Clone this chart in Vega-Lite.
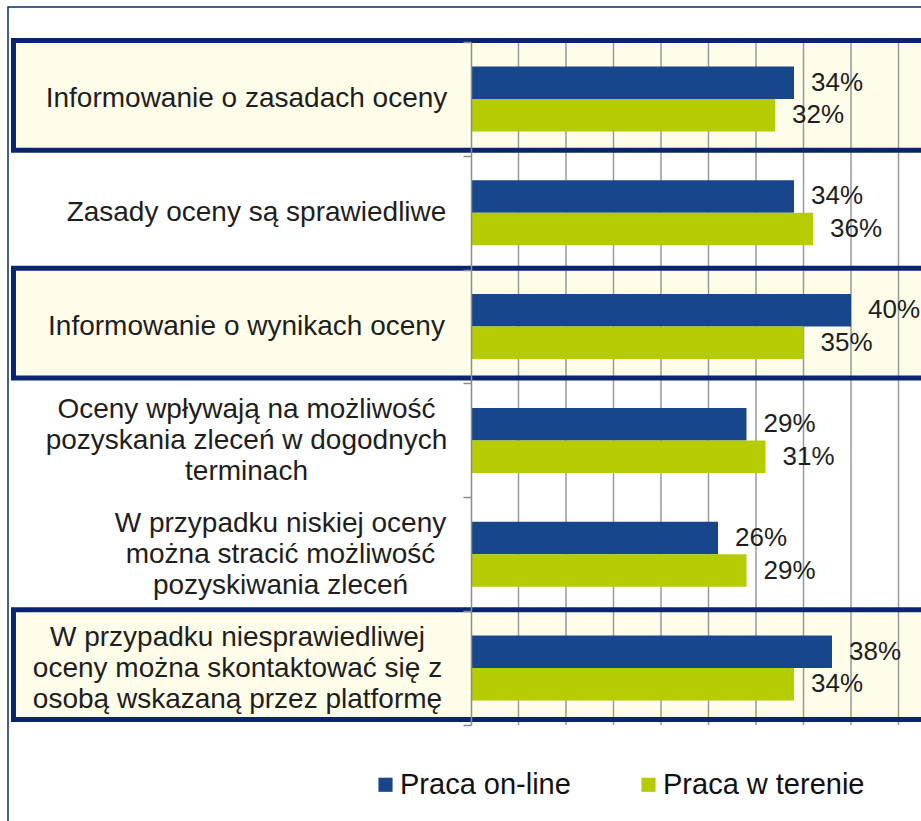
{
  "$schema": "https://vega.github.io/schema/vega-lite/v6.json",
  "autosize": {"type": "none"},
  "padding": {"left": 8, "top": 7, "right": -2, "bottom": -2},
  "width": 915,
  "height": 816,
  "background": "white",
  "view": {"stroke": "#0A2B6E", "strokeWidth": 1.5},
  "config": {"font": "Liberation Sans"},
  "datasets": {
    "results": [
      {"kategoria": "Informowanie o zasadach oceny", "seria": "Praca on-line", "wartosc": 0.34},
      {"kategoria": "Informowanie o zasadach oceny", "seria": "Praca w terenie", "wartosc": 0.32},
      {"kategoria": "Zasady oceny są sprawiedliwe", "seria": "Praca on-line", "wartosc": 0.34},
      {"kategoria": "Zasady oceny są sprawiedliwe", "seria": "Praca w terenie", "wartosc": 0.36},
      {"kategoria": "Informowanie o wynikach oceny", "seria": "Praca on-line", "wartosc": 0.40},
      {"kategoria": "Informowanie o wynikach oceny", "seria": "Praca w terenie", "wartosc": 0.35},
      {"kategoria": "Oceny wpływają na możliwość\npozyskania zleceń w dogodnych\nterminach", "seria": "Praca on-line", "wartosc": 0.29},
      {"kategoria": "Oceny wpływają na możliwość\npozyskania zleceń w dogodnych\nterminach", "seria": "Praca w terenie", "wartosc": 0.31},
      {"kategoria": "W przypadku niskiej oceny\nmożna stracić możliwość\npozyskiwania zleceń", "seria": "Praca on-line", "wartosc": 0.26},
      {"kategoria": "W przypadku niskiej oceny\nmożna stracić możliwość\npozyskiwania zleceń", "seria": "Praca w terenie", "wartosc": 0.29},
      {"kategoria": "W przypadku niesprawiedliwej\noceny można skontaktować się z\nosobą wskazaną przez platformę", "seria": "Praca on-line", "wartosc": 0.38},
      {"kategoria": "W przypadku niesprawiedliwej\noceny można skontaktować się z\nosobą wskazaną przez platformę", "seria": "Praca w terenie", "wartosc": 0.34}
    ],
    "highlights": [
      {"kategoria": "Informowanie o zasadach oceny"},
      {"kategoria": "Informowanie o wynikach oceny"},
      {"kategoria": "W przypadku niesprawiedliwej\noceny można skontaktować się z\nosobą wskazaną przez platformę"}
    ],
    "siatka": [
      {"g": 0.05}, {"g": 0.10}, {"g": 0.15}, {"g": 0.20}, {"g": 0.25},
      {"g": 0.30}, {"g": 0.35}, {"g": 0.40}, {"g": 0.45}
    ],
    "gora": [{"linia": "top"}]
  },
  "layer": [
    {
      "data": {"name": "highlights"},
      "mark": {"type": "bar", "fill": "#FEFDE9", "strokeWidth": 0, "height": {"band": 0.965}, "yOffset": -3.5},
      "encoding": {
        "y": {
          "field": "kategoria", "type": "nominal", "sort": null,
          "scale": {
            "domain": [
              "Informowanie o zasadach oceny",
              "Zasady oceny są sprawiedliwe",
              "Informowanie o wynikach oceny",
              "Oceny wpływają na możliwość\npozyskania zleceń w dogodnych\nterminach",
              "W przypadku niskiej oceny\nmożna stracić możliwość\npozyskiwania zleceń",
              "W przypadku niesprawiedliwej\noceny można skontaktować się z\nosobą wskazaną przez platformę"
            ],
            "range": [35, 718], "paddingInner": 0, "paddingOuter": 0
          },
          "axis": {
            "title": null, "orient": "left", "offset": -463, "zindex": 1,
            "domainColor": "#8c8c8c", "domainWidth": 1.5,
            "tickColor": "#8c8c8c", "tickWidth": 1.5, "tickSize": 8, "tickBand": "extent",
            "labelAlign": "center", "labelBaseline": "middle",
            "labelPadding": {
              "condition": [
                {"test": "datum.value && indexof(datum.value, 'Zasady') == 0", "value": 207},
                {"test": "datum.value && indexof(datum.value, 'niskiej') >= 0", "value": 183},
                {"test": "datum.value && indexof(datum.value, 'niesprawiedliwej') >= 0", "value": 226}
              ],
              "value": 217
            },
            "labelFontSize": 28, "labelColor": "#1e1e1e", "labelLimit": 600,
            "labelLineHeight": 31, "labelOverlap": false, "labelFont": "Liberation Sans",
            "labelOffset": {"condition": {"test": "datum.value && indexof(datum.value, '\\n') >= 0", "value": -31}, "value": 0},
            "labelExpr": "datum.value ? split(datum.value, '\\n') : ''"
          }
        },
        "x": {
          "datum": -0.4816, "type": "quantitative",
          "scale": {"domain": [0, 0.5], "range": [463, 938], "nice": false},
          "axis": null
        },
        "x2": {"datum": 0.6}
      }
    },
    {
      "data": {"name": "siatka"},
      "mark": {"type": "rule", "color": "#9a9a9a", "strokeWidth": 1.5},
      "encoding": {
        "x": {"field": "g", "type": "quantitative"},
        "y": {"datum": "Informowanie o zasadach oceny", "type": "nominal", "bandPosition": 0},
        "y2": {"datum": "W przypadku niesprawiedliwej\noceny można skontaktować się z\nosobą wskazaną przez platformę", "bandPosition": 1}
      }
    },
    {
      "data": {"name": "gora"},
      "mark": {"type": "rule", "color": "#9a9a9a", "strokeWidth": 1.5},
      "encoding": {
        "x": {"datum": -0.009, "type": "quantitative"},
        "x2": {"datum": 0.45},
        "y": {"datum": "Informowanie o zasadach oceny", "type": "nominal", "bandPosition": 0}
      }
    },
    {
      "data": {"name": "highlights"},
      "mark": {"type": "bar", "fill": null, "fillOpacity": 0, "stroke": "#0A2470", "strokeWidth": 5, "height": {"band": 0.965}, "yOffset": -3.5},
      "encoding": {
        "y": {"field": "kategoria", "type": "nominal", "sort": null},
        "x": {"datum": -0.4816, "type": "quantitative"},
        "x2": {"datum": 0.6}
      }
    },
    {
      "data": {"name": "results"},
      "mark": {"type": "bar"},
      "encoding": {
        "y": {"field": "kategoria", "type": "nominal", "sort": null},
        "yOffset": {"field": "seria", "type": "nominal", "scale": {"paddingOuter": 0.75, "paddingInner": 0}},
        "x": {"field": "wartosc", "type": "quantitative"},
        "color": {
          "field": "seria", "type": "nominal",
          "scale": {"domain": ["Praca on-line", "Praca w terenie"], "range": ["#17468A", "#B5CC00"]},
          "legend": {
            "title": null, "orient": "none", "direction": "horizontal",
            "legendX": 363, "legendY": 763, "padding": 0,
            "symbolType": "square", "symbolSize": 200, "symbolStrokeWidth": 0,
            "labelFontSize": 29, "labelOffset": 0, "columnPadding": 63,
            "labelColor": "#111111", "labelLimit": 400, "labelFont": "Liberation Sans"
          }
        }
      }
    },
    {
      "data": {"name": "results"},
      "mark": {"type": "text", "align": "left", "baseline": "middle", "dx": 17, "fontSize": 26, "color": "#1e1e1e", "font": "Liberation Sans"},
      "encoding": {
        "y": {"field": "kategoria", "type": "nominal", "sort": null},
        "yOffset": {"field": "seria", "type": "nominal"},
        "x": {"field": "wartosc", "type": "quantitative"},
        "text": {"field": "wartosc", "type": "quantitative", "format": ".0%"}
      }
    }
  ]
}
